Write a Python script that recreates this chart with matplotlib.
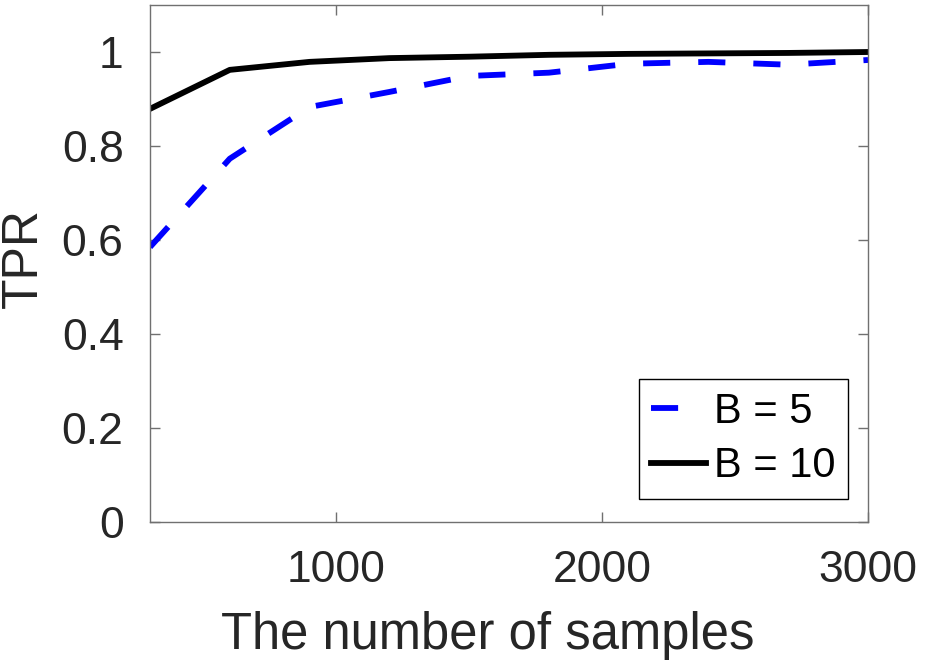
import matplotlib
matplotlib.use("Agg")
import matplotlib.pyplot as plt

samples = [300, 600, 900, 1200, 1500, 1800, 2100, 2400, 2700, 3000]
tpr_b5 = [0.585, 0.773, 0.883, 0.915, 0.949, 0.956, 0.975, 0.979, 0.973, 0.983]
tpr_b10 = [0.879, 0.962, 0.979, 0.987, 0.990, 0.994, 0.996, 0.997, 0.998, 1.0]
labels = ["B = 5", "B = 10"]
xticks = [1000, 2000, 3000]
yticks = [0, 0.2, 0.4, 0.6, 0.8, 1.0]
yticklabels = ["0", "0.2", "0.4", "0.6", "0.8", "1"]

plt.rcParams['font.family'] = ['Liberation Sans', 'DejaVu Sans']

fig = plt.figure(figsize=(9.25, 6.65), dpi=100)
ax = fig.add_axes([150/925, 1-522/665, 718/925, 517/665])

lw = 4.2
ax.plot(samples, tpr_b5, color='#0000ff', lw=lw, dashes=(4.65, 4.8),
        dash_capstyle='butt', label=labels[0])
ax.plot(samples, tpr_b10, color='black', lw=lw, label=labels[1])

ax.set_xlim(300, 3000)
ax.set_ylim(0, 1.1)
ax.set_xticks(xticks)
ax.set_xticklabels([str(t) for t in xticks])
ax.set_yticks(yticks)
ax.set_yticklabels(yticklabels)

grey = '#262626'
for s in ax.spines.values():
    s.set_color('#707070')
    s.set_linewidth(1.0)
ax.tick_params(direction='in', length=7, width=1.0, color='#707070',
               labelsize=32, labelcolor=grey, top=True, right=True)
ax.tick_params(axis='x', pad=20)
ax.tick_params(axis='y', pad=19)

ax.set_xlabel("The number of samples", fontsize=36.5, color=grey)
ax.xaxis.set_label_coords((488-150)/718, -0.172)
ax.set_ylabel("TPR", fontsize=36, color=grey)
ax.yaxis.set_label_coords(-0.143, 0.51)

leg = ax.legend(loc='lower right', bbox_to_anchor=(0.972, 0.0445),
                borderaxespad=0, fontsize=30, fancybox=False, framealpha=1,
                edgecolor='black', handlelength=1.3, handletextpad=0.2,
                labelspacing=0.35, borderpad=0.3)
leg.get_frame().set_linewidth(1.0)

fig.savefig("out.png", dpi=100)
